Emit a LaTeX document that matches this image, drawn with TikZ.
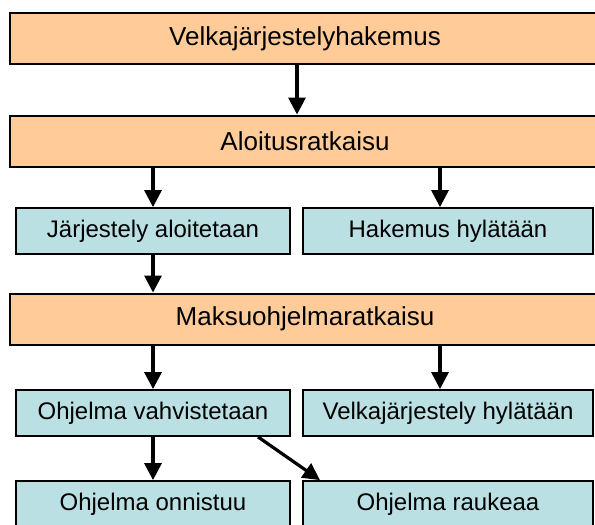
\documentclass[tikz,border=0pt]{standalone}
\usepackage{fontspec}
\setmainfont{Liberation Sans}
\usetikzlibrary{arrows.meta}
\definecolor{orangefill}{RGB}{255,204,153}
\definecolor{bluefill}{RGB}{187,224,227}
\tikzset{
  stagebox/.style={draw=black, line width=2pt, fill=orangefill, rectangle, minimum width=590pt, minimum height=51pt, inner sep=0pt, font=\fontsize{26}{26}\selectfont},
  outbox/.style={draw=black, line width=1.8pt, fill=bluefill, rectangle, minimum height=46pt, inner sep=0pt, font=\fontsize{24}{24}\selectfont},
  arr/.style={line width=3.2pt, -{Triangle[width=17pt,length=17pt]}}
}
\begin{document}
\begin{tikzpicture}[x=1pt,y=-1pt]
\useasboundingbox (0,0) rectangle (595,525);
\clip (0,0) rectangle (595,525);
\fill[white] (0,0) rectangle (595,525);
\node[stagebox] (A) at (305,38.5) {Velkajärjestelyhakemus};
\node[stagebox] (B) at (305,141) {Aloitusratkaisu};
\node[outbox, minimum width=274pt] (C) at (153,231) {Järjestely aloitetaan};
\node[outbox, minimum width=290pt] (D) at (448,231) {Hakemus hylätään};
\node[stagebox] (E) at (305,319) {Maksuohjelmaratkaisu};
\node[outbox, minimum width=274pt] (F) at (153,413) {Ohjelma vahvistetaan};
\node[outbox, minimum width=290pt] (G) at (448,413) {Velkajärjestely hylätään};
\node[outbox, minimum width=274pt] (H) at (153,504) {Ohjelma onnistuu};
\node[outbox, minimum width=290pt] (I) at (448,504) {Ohjelma raukeaa};
\draw[arr] (A.south -| 297,0) -- (B.north -| 297,0);
\draw[arr] (B.south -| 153,0) -- (C.north -| 153,0);
\draw[arr] (B.south -| 440,0) -- (D.north -| 440,0);
\draw[arr] (C.south) -- (E.north -| C.south);
\draw[arr] (E.south -| 153,0) -- (F.north -| 153,0);
\draw[arr] (E.south -| 440,0) -- (G.north -| 440,0);
\draw[arr] (F.south) -- (H.north);
\draw[arr] (F.south -| 258,0) -- (I.north -| 320,0);
\end{tikzpicture}
\end{document}
